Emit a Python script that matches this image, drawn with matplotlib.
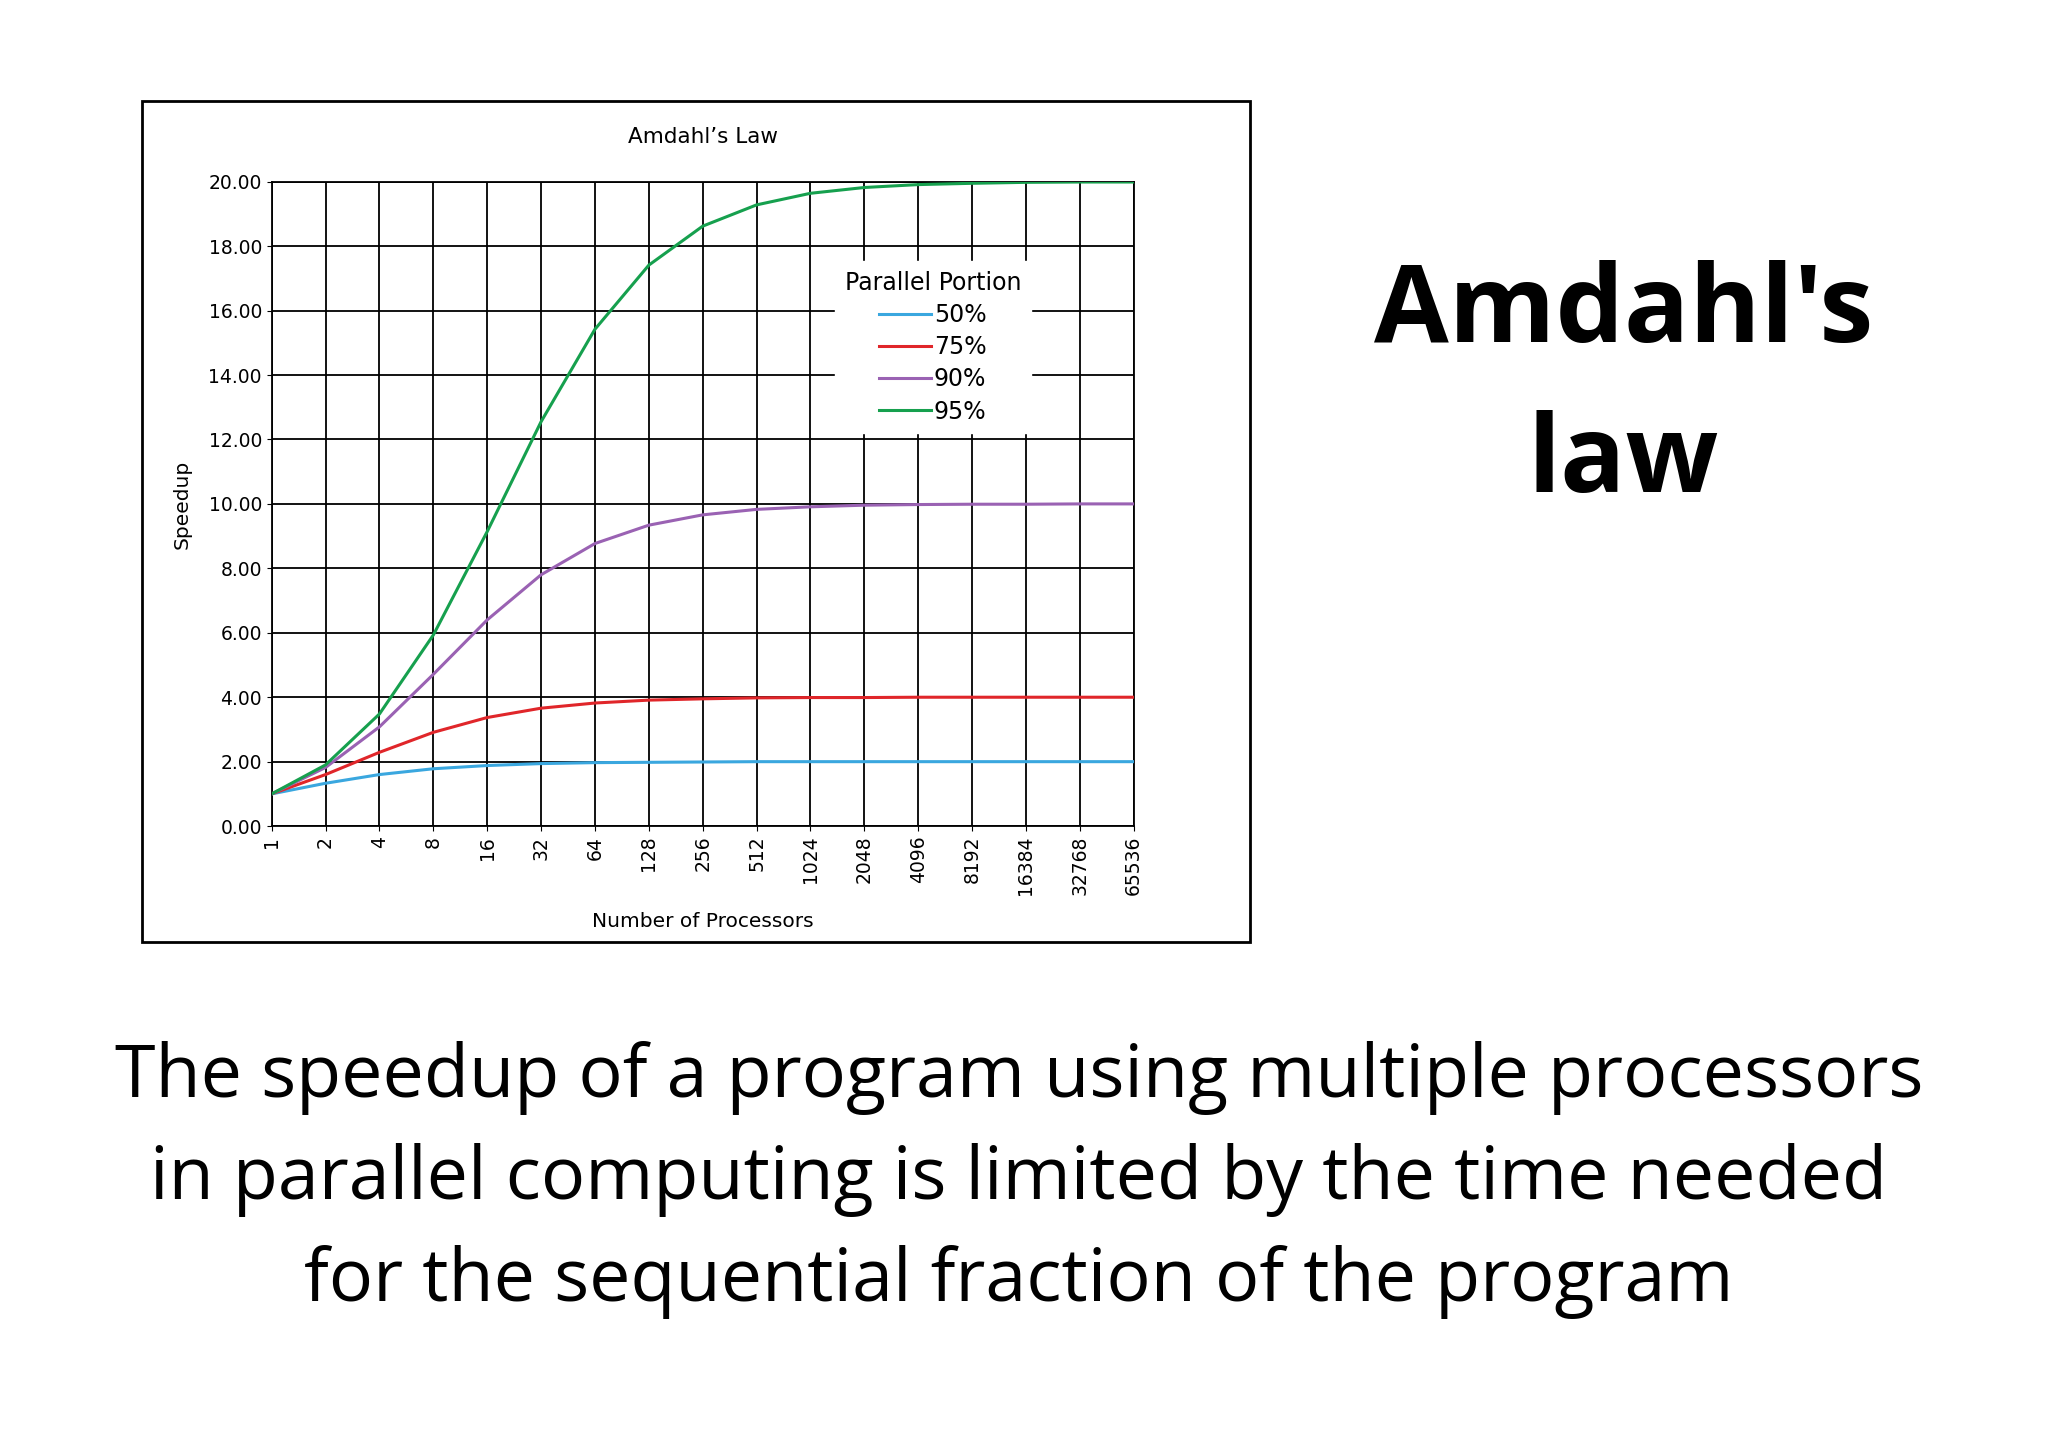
import matplotlib
matplotlib.use("Agg")
import matplotlib.pyplot as plt
from matplotlib.patches import Rectangle

processors = ["1","2","4","8","16","32","64","128","256","512","1024","2048","4096","8192","16384","32768","65536"]
s50 = [1,1.33,1.6,1.78,1.88,1.94,1.97,1.98,1.99,2.0,2.0,2.0,2.0,2.0,2.0,2.0,2.0]
s75 = [1,1.6,2.29,2.91,3.37,3.66,3.82,3.91,3.95,3.98,3.99,3.99,4.0,4.0,4.0,4.0,4.0]
s90 = [1,1.82,3.08,4.71,6.4,7.8,8.77,9.34,9.66,9.83,9.91,9.96,9.98,9.99,9.99,10.0,10.0]
s95 = [1,1.9,3.48,5.93,9.14,12.55,15.42,17.41,18.62,19.28,19.64,19.82,19.91,19.95,19.98,19.99,19.99]
series = [("50%", s50, "#3aa7df"), ("75%", s75, "#e0262a"), ("90%", s90, "#9a62b3"), ("95%", s95, "#16a04e")]
yticks = [0,2,4,6,8,10,12,14,16,18,20]

W, H = 1568, 1107
fig = plt.figure(figsize=(20.48, 14.47), dpi=100)
fig.patch.set_facecolor("white")

fig.patches.append(Rectangle((109/W, 1-721/H), (957-109)/W, (721-77)/H, transform=fig.transFigure,
                             fill=False, edgecolor="black", linewidth=2))

ax = fig.add_axes([208/W, 1-632/H, (868-208)/W, (632-139)/H])
x = list(range(len(processors)))
for name, vals, c in series:
    ax.plot(x, vals, color=c, linewidth=2.2, label=name, zorder=3)
ax.set_xlim(0, len(processors)-1)
ax.set_ylim(0, 20)
ax.set_xticks(x)
ax.set_xticklabels(processors, rotation=90, fontsize=13.5)
ax.set_yticks(yticks)
ax.set_yticklabels([f"{v:.2f}" for v in yticks], fontsize=13.5)
ax.grid(True, color="black", linewidth=1.3, zorder=1)
for sp in ax.spines.values():
    sp.set_linewidth(1.3)
ax.set_xlabel("Number of Processors", fontsize=14.5, labelpad=12)
ax.set_ylabel("Speedup", fontsize=14.5, labelpad=12)
ax.set_title("Amdahl\u2019s Law", fontsize=15.5, pad=28)
leg = ax.legend(title="Parallel Portion", loc="upper left", bbox_to_anchor=(0.64, 0.895),
                frameon=True, fontsize=17, title_fontsize=17, handlelength=2.2,
                handletextpad=0.1, labelspacing=0.35, borderpad=0.4)
leg.get_frame().set_edgecolor("white")
leg.get_frame().set_alpha(1)

fig.text(1243/W, 1-240/H, "Amdahl's", fontsize=78, fontweight="bold", ha="center", va="center", family="Open Sans")
fig.text(1243/W, 1-355/H, "law", fontsize=78, fontweight="bold", ha="center", va="center", family="Open Sans")
lines = ["The speedup of a program using multiple processors",
         "in parallel computing is limited by the time needed",
         "for the sequential fraction of the program"]
for i, t in enumerate(lines):
    fig.text(780/W, 1-(825+78*i)/H, t, fontsize=53, ha="center", va="center", family="Open Sans")

fig.savefig("out.png", dpi=100)
